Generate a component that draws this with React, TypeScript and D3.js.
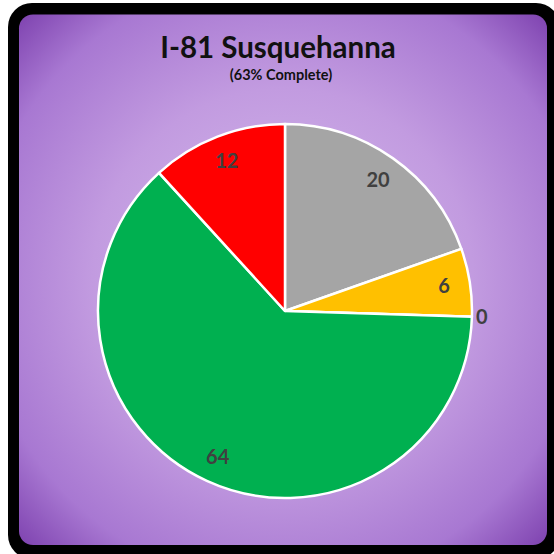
import React from "react";
import * as d3 from "d3";

const categories = ["Not Started", "In Design", "On Hold", "Complete", "Under Construction"];
const values = [20, 6, 0, 64, 12];
const colors = ["#A5A5A5", "#FFC000", "#4472C4", "#00B050", "#FF0000"];
const title = "I-81 Susquehanna";
const subtitle = "(63% Complete)";

export default function App() {
  const W = 554, H = 554;
  const cx = 285, cy = 311, R = 187;
  const pie = d3.pie<number>().sort(null).value((d) => d)(values);
  const arc = d3.arc<d3.PieArcDatum<number>>().innerRadius(0).outerRadius(R);
  const labelArc = d3.arc<d3.PieArcDatum<number>>().innerRadius(161).outerRadius(161);
  const outArc = d3.arc<d3.PieArcDatum<number>>().innerRadius(R + 10).outerRadius(R + 10);
  const font = "Lato, 'Open Sans', sans-serif";
  return (
    <svg width={W} height={H} style={{ position: "absolute", left: 0, top: 0, display: "block" }}>
      <defs>
        <radialGradient id="bg" cx="0.5" cy="0.5" r="0.72">
          <stop offset="0" stopColor="#d6bdec" />
          <stop offset="0.5" stopColor="#c29be0" />
          <stop offset="0.8" stopColor="#a878d2" />
          <stop offset="1" stopColor="#7a3dac" />
        </radialGradient>
      </defs>
      <rect x={0} y={0} width={W} height={H} fill="#ffffff" />
      <rect x={8} y={3} width={552} height={556} rx={24} fill="#000" />
      <rect x={19} y={14.5} width={528} height={530.5} rx={14} fill="url(#bg)" />
      <text x={278} y={58} textAnchor="middle" fontFamily={font} fontWeight={700} fontSize={29.5} fill="#111">
        {title}
      </text>
      <text x={281} y={80} textAnchor="middle" fontFamily={font} fontWeight={700} fontSize={14.5} fill="#111">
        {subtitle}
      </text>
      <g transform={`translate(${cx},${cy})`}>
        {pie.map((d, i) => (
          <path key={categories[i]} d={arc(d) || ""} fill={colors[i]} stroke="#fff" strokeWidth={2.5} strokeLinejoin="round" />
        ))}
        {pie.map((d, i) => {
          const [x, y] = d.value === 0 ? outArc.centroid(d) : labelArc.centroid(d);
          return (
            <text key={"l" + i} x={x} y={y} dy="0.35em" textAnchor="middle" fontFamily={font} fontWeight={700} fontSize={20} fill="#404040">
              {d.value}
            </text>
          );
        })}
      </g>
    </svg>
  );
}
